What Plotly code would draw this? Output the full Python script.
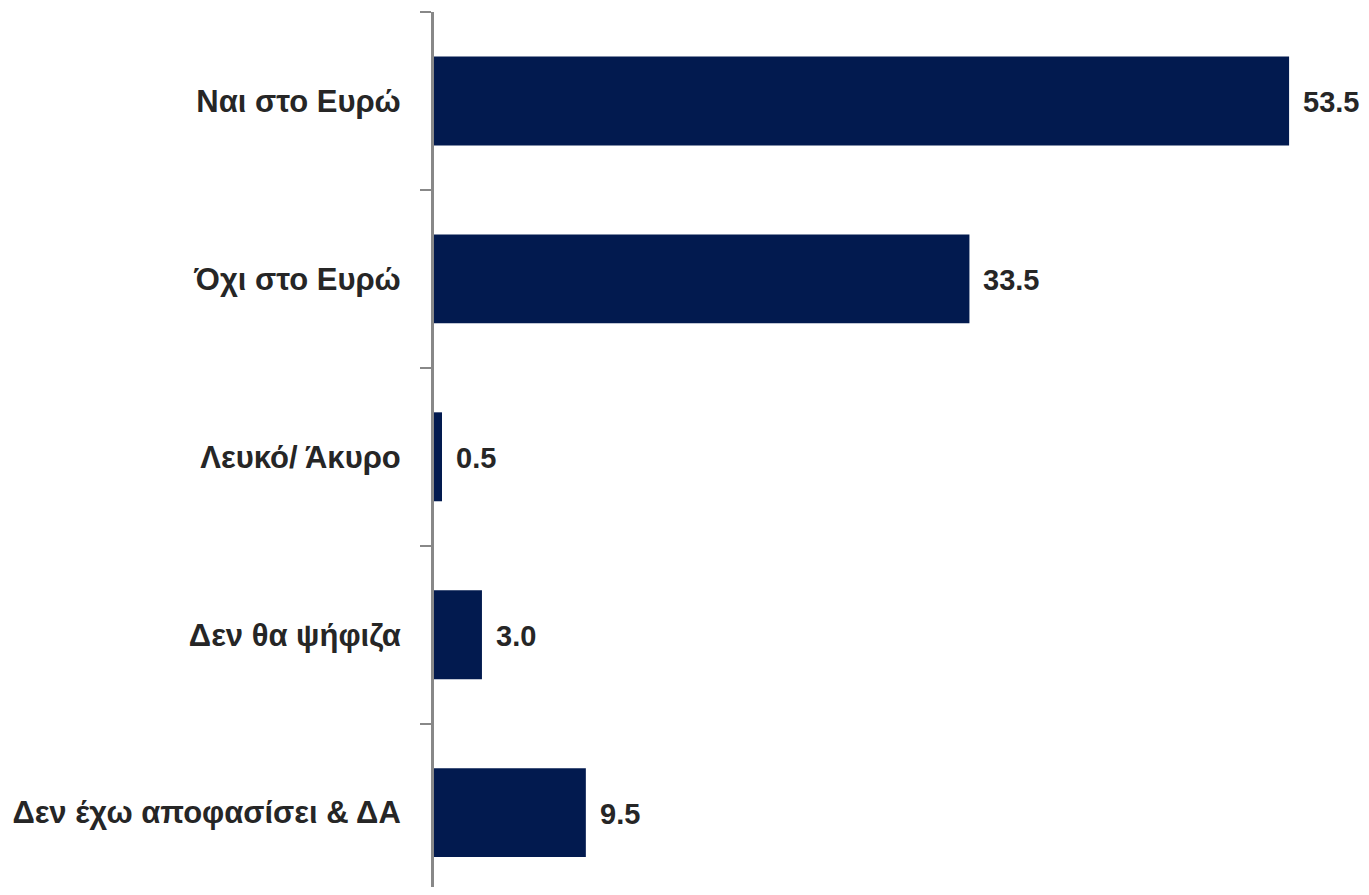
import plotly.graph_objects as go

categories = ["Ναι στο Ευρώ", "Όχι στο Ευρώ", "Λευκό/ Άκυρο", "Δεν θα ψήφιζα", "Δεν έχω αποφασίσει & ΔΑ"]
values = [53.5, 33.5, 0.5, 3.0, 9.5]
value_labels = ["53.5", "33.5", "0.5", "3.0", "9.5"]

FONT = "Liberation Sans, Arial, sans-serif"
TXT = "#262626"

fig = go.Figure()
fig.add_trace(go.Bar(
    y=categories, x=values, orientation="h",
    marker=dict(color="#021A4F", line=dict(width=0)),
    width=0.5, hoverinfo="skip",
))
for c, v, t in zip(categories, values, value_labels):
    fig.add_annotation(x=v, y=c, text=t, showarrow=False, xanchor="left",
                       xshift=12, yshift=-1,
                       font=dict(family=FONT, size=29, color=TXT, weight="bold"))

fig.update_layout(
    width=1361, height=879,
    margin=dict(l=426, r=0, t=4, b=0),
    plot_bgcolor="white", paper_bgcolor="white",
    showlegend=False,
    font=dict(family=FONT, size=30, color=TXT),
)
fig.update_xaxes(range=[0, 58.5], visible=False, showgrid=False, zeroline=False)
fig.update_yaxes(
    type="category", categoryorder="array", categoryarray=categories,
    range=[4.418, -0.5], showgrid=False, zeroline=False,
    showline=True, linecolor="#888888", linewidth=3,
    ticks="outside", ticklen=11, tickwidth=2, tickcolor="#888888",
    tickson="boundaries", ticklabelstandoff=24,
    tickfont=dict(family=FONT, size=31, color=TXT, weight="bold"),
)
fig.write_html("out.html")
